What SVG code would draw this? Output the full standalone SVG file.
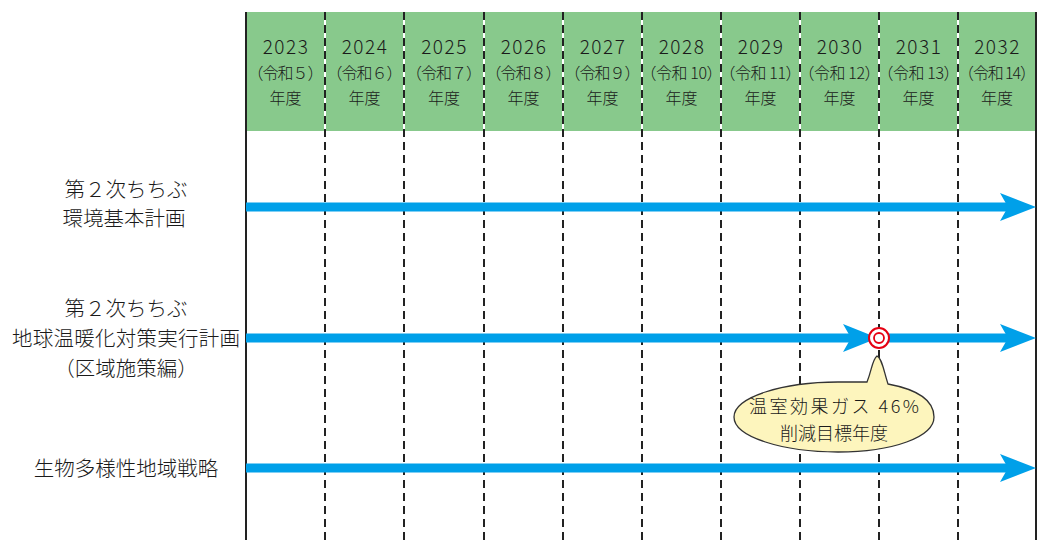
<svg xmlns="http://www.w3.org/2000/svg" width="1038" height="540" viewBox="0 0 1038 540">
<defs>
<style>
text{font-family:"Noto Sans CJK JP","Liberation Sans",sans-serif;font-weight:300;fill:#1a1a1a;text-anchor:middle}
.yr{font-size:19px;letter-spacing:1.5px}
.rw{font-size:16px}
.lb{font-size:20.5px}
.co{font-size:18px}
.dash{stroke:#222;stroke-width:2;stroke-dasharray:8 5}
.wl{stroke:#fff;stroke-width:2}
.arr{stroke:#00a0e9;stroke-width:9}
.head{fill:#00a0e9}
</style>
</defs>
<rect width="1038" height="540" fill="#fff"/>
<g id="header">
<rect x="246" y="12" width="790" height="119" fill="#88c98c"/>
<g class="wl">
<line x1="325" y1="12" x2="325" y2="131"/><line x1="404" y1="12" x2="404" y2="131"/><line x1="484" y1="12" x2="484" y2="131"/><line x1="563" y1="12" x2="563" y2="131"/><line x1="642" y1="12" x2="642" y2="131"/><line x1="721" y1="12" x2="721" y2="131"/><line x1="800" y1="12" x2="800" y2="131"/><line x1="879" y1="12" x2="879" y2="131"/><line x1="958" y1="12" x2="958" y2="131"/>
</g>
</g>
<g id="grid">
<g class="dash">
<line x1="325" y1="12" x2="325" y2="540"/><line x1="404" y1="12" x2="404" y2="540"/><line x1="484" y1="12" x2="484" y2="540"/><line x1="563" y1="12" x2="563" y2="540"/><line x1="642" y1="12" x2="642" y2="540"/><line x1="721" y1="12" x2="721" y2="540"/><line x1="800" y1="12" x2="800" y2="540"/><line x1="879" y1="12" x2="879" y2="540"/><line x1="958" y1="12" x2="958" y2="540"/>
</g>
<line x1="246" y1="12" x2="246" y2="540" stroke="#222" stroke-width="2"/>
<line x1="1036" y1="12" x2="1036" y2="540" stroke="#222" stroke-width="2"/>
</g>
<g id="years">
<text class="yr" x="286" y="54">2023</text><text class="rw" x="285.5" y="79" textLength="76">（令和５）</text><text class="rw" x="285.5" y="104">年度</text>
<text class="yr" x="365" y="54">2024</text><text class="rw" x="364.5" y="79" textLength="76">（令和６）</text><text class="rw" x="364.5" y="104">年度</text>
<text class="yr" x="444.5" y="54">2025</text><text class="rw" x="444" y="79" textLength="76">（令和７）</text><text class="rw" x="444" y="104">年度</text>
<text class="yr" x="524" y="54">2026</text><text class="rw" x="523.5" y="79" textLength="76">（令和８）</text><text class="rw" x="523.5" y="104">年度</text>
<text class="yr" x="603" y="54">2027</text><text class="rw" x="602.5" y="79" textLength="76">（令和９）</text><text class="rw" x="602.5" y="104">年度</text>
<text class="yr" x="682" y="54">2028</text><text class="rw" x="681.5" y="79" textLength="82">（令和 10）</text><text class="rw" x="681.5" y="104">年度</text>
<text class="yr" x="761" y="54">2029</text><text class="rw" x="760.5" y="79" textLength="82">（令和 11）</text><text class="rw" x="760.5" y="104">年度</text>
<text class="yr" x="840" y="54">2030</text><text class="rw" x="839.5" y="79" textLength="82">（令和 12）</text><text class="rw" x="839.5" y="104">年度</text>
<text class="yr" x="919" y="54">2031</text><text class="rw" x="918.5" y="79" textLength="82">（令和 13）</text><text class="rw" x="918.5" y="104">年度</text>
<text class="yr" x="997.5" y="54">2032</text><text class="rw" x="997" y="79" textLength="78">（令和 14）</text><text class="rw" x="997" y="104">年度</text>
</g>
<g id="label1"><text class="lb" x="126" y="197">第２次ちちぶ</text><text class="lb" x="124" y="226">環境基本計画</text></g>
<g id="label2"><text class="lb" x="126" y="316">第２次ちちぶ</text><text class="lb" x="126" y="346" textLength="228">地球温暖化対策実行計画</text><text class="lb" x="126" y="376">（区域施策編）</text></g>
<g id="label3"><text class="lb" x="126" y="476">生物多様性地域戦略</text></g>
<g id="connectors">
<line class="arr" x1="246" y1="207" x2="1010" y2="207"/>
<path class="head" d="M1000 193 L1036 207 L1000 221 L1008 207 Z"/>
<line class="arr" x1="246" y1="338" x2="860" y2="338"/>
<path class="head" d="M843 324 L878 338 L843 352 L851 338 Z"/>
<line class="arr" x1="879" y1="338" x2="1010" y2="338"/>
<path class="head" d="M1000 324 L1036 338 L1000 352 L1008 338 Z"/>
<line class="arr" x1="246" y1="468" x2="1010" y2="468"/>
<path class="head" d="M1000 454 L1036 468 L1000 482 L1008 468 Z"/>
</g>
<g id="target">
<circle cx="879" cy="338" r="10" fill="#fff" stroke="#e60012" stroke-width="2"/>
<circle cx="879" cy="338" r="5" fill="#fff" stroke="#e60012" stroke-width="1.8"/>
</g>
<g id="callout">
<path d="M867 382 C872 370 872 360 877 356 C882 358 884 372 888 384 C920 390 934 402 934 417 C934 437 893 452 838 452 C783 452 734 437 734 417 C734 397 783 382 838 382 C848 382 858 382 867 382 Z" fill="#fdf5bd" stroke="#333" stroke-width="1.3"/>
<text class="co" x="834" y="413" textLength="170">温室効果ガス 46%</text>
<text class="co" x="834" y="440">削減目標年度</text>
</g>
</svg>
